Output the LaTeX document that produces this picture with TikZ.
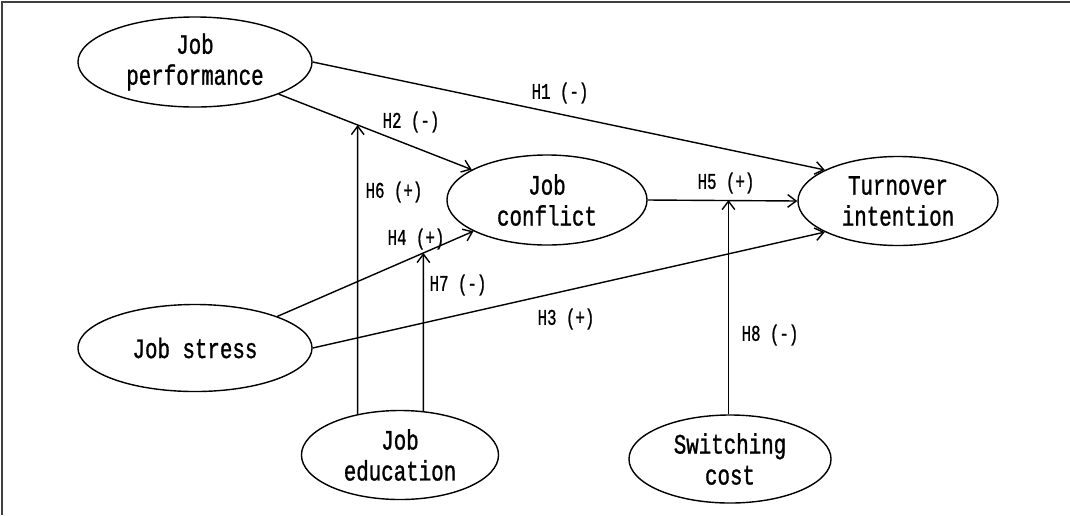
\documentclass[tikz,border=0pt]{standalone}
\usepackage{fontspec}
\newfontfamily\diagfont[FakeStretch=0.74,FakeBold=1]{Liberation Mono}
\newfontfamily\hypfont[FakeStretch=0.7,FakeBold=1]{Liberation Mono}
\usetikzlibrary{shapes.geometric,arrows.meta}

\tikzset{
    factor/.style={draw, ellipse, line width=1pt, inner sep=0pt, align=center,
        font=\diagfont\fontsize{20}{22}\selectfont},
    hyp/.style={font=\hypfont\fontsize{16}{18}\selectfont},
    link/.style={line width=1pt, -{Straight Barb[length=6pt,width=9pt]}}
}

\begin{document}
\begin{tikzpicture}[x=0.025cm, y=-0.025cm]
    \useasboundingbox (0,0) rectangle (1070,515);
    % frame
    \draw[line width=1.2pt, black!75] (1070,2) -- (2,2) -- (2,515);

    % factors
    \node[factor, minimum width=5.85cm, minimum height=2.25cm] (perf) at (195,62) {Job\\performance};
    \node[factor, minimum width=5cm, minimum height=2.25cm] (conf) at (547,200) {Job\\conflict};
    \node[factor, minimum width=5cm, minimum height=2.225cm] (turn) at (898,201) {Turnover\\intention};
    \node[factor, minimum width=5.85cm, minimum height=2.175cm] (stress) at (195,348) {Job stress};
    \node[factor, minimum width=4.925cm, minimum height=2.225cm] (edu) at (400,455) {Job\\education};
    \node[factor, minimum width=5.05cm, minimum height=2.2cm] (cost) at (730,459) {Switching\\cost};

    % direct effects
    \draw[link] (perf.east) -- (turn.157);
    \draw[link] (perf.-21) -- (conf.158);
    \draw[link] (stress.21) -- (conf.203);
    \draw[link] (stress.east) -- (turn.203);
    \draw[link] (conf.east) -- (turn.west);

    % moderators
    \coordinate (up6) at (edu.136 |- perf.north);
    \coordinate (up7) at (edu.62 |- perf.north);
    \coordinate (m6) at (intersection of perf.-21--conf.158 and edu.136--up6);
    \coordinate (m7) at (intersection of stress.21--conf.203 and edu.62--up7);
    \draw[link] (edu.136) -- (m6);
    \draw[link] (edu.62) -- (m7);
    \draw[link] (cost.92) -- (cost.92 |- conf.east);

    % labels
    \node[hyp] (h1) at (560,93) {H1 (-)};
    \node[hyp] (h2) at (411,122) {H2 (-)};
    \node[hyp] (h3) at (566,319) {H3 (+)};
    \node[hyp] (h4) at (416,239) {H4 (+)};
    \node[hyp] (h5) at (726,183) {H5 (+)};
    \node[hyp] (h6) at (394,192) {H6 (+)};
    \node[hyp] (h7) at (458,285) {H7 (-)};
    \node[hyp] (h8) at (770,335) {H8 (-)};
\end{tikzpicture}
\end{document}
